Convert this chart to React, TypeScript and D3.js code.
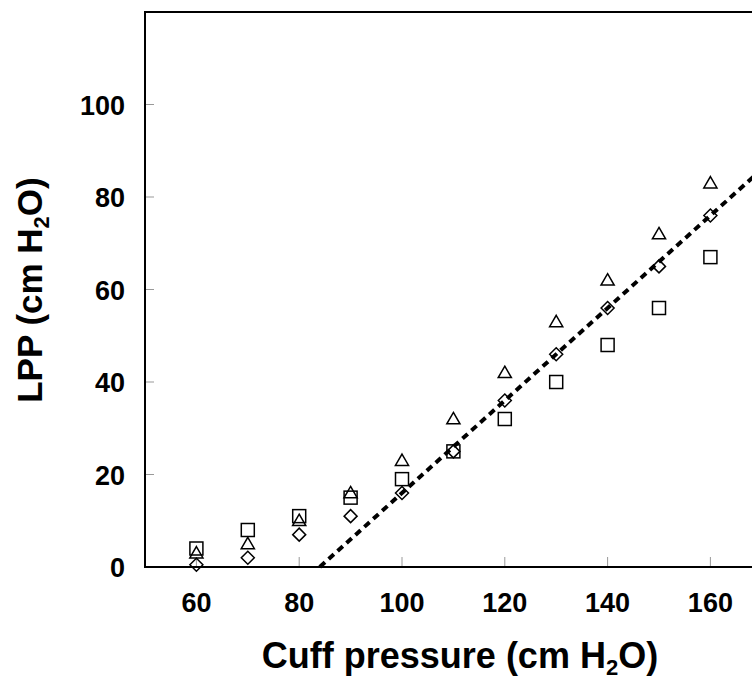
import React from "react";
import * as d3 from "d3";

const cuffPressure = [60, 70, 80, 90, 100, 110, 120, 130, 140, 150, 160];
const squareLPP = [4, 8, 11, 15, 19, 25, 32, 40, 48, 56, 67];
const triangleLPP = [3, 5, 10, 16, 23, 32, 42, 53, 62, 72, 83];
const diamondLPP = [0.5, 2, 7, 11, 16, 25, 36, 46, 56, 65, 76];
const fitLine = [
  [84, 0],
  [170, 86],
];
const xTicks = [60, 80, 100, 120, 140, 160];
const yTicks = [0, 20, 40, 60, 80, 100];

export default function App() {
  const W = 752;
  const H = 682;
  const left = 145;
  const top = 12;
  const bottom = 567;
  const x = d3.scaleLinear().domain([50, 170]).range([left, left + 120 * 5.14]);
  const y = d3.scaleLinear().domain([0, 120]).range([bottom, top]);
  const line = d3
    .line<number[]>()
    .x((d) => x(d[0]))
    .y((d) => y(d[1]));
  const font = "'Liberation Sans', Arial, sans-serif";
  const tri = d3.symbol().type(d3.symbolTriangle).size(75)()!;
  return (
    <svg
      width={W}
      height={H}
      style={{ display: "block", overflow: "hidden", position: "absolute", left: 0, top: 0 }}
      fontFamily={font}
    >
      <rect width={W} height={H} fill="#fff" />
      {/* ticks */}
      {yTicks.map((t) => (
        <line key={"yt" + t} x1={left} x2={left + 9} y1={y(t)} y2={y(t)} stroke="#999" strokeWidth={1} />
      ))}
      {xTicks.map((t) => (
        <line key={"xt" + t} x1={x(t)} x2={x(t)} y1={bottom} y2={bottom - 10} stroke="#999" strokeWidth={1} />
      ))}
      {/* frame */}
      <line x1={left} x2={left} y1={top} y2={bottom} stroke="#000" strokeWidth={2} />
      <line x1={left - 1} x2={W} y1={top} y2={top} stroke="#000" strokeWidth={2} />
      <line x1={left - 1} x2={W} y1={bottom} y2={bottom} stroke="#000" strokeWidth={2} />
      {/* fit line */}
      <path d={line(fitLine)!} fill="none" stroke="#000" strokeWidth={4} strokeDasharray="7,5" />
      {/* squares */}
      {cuffPressure.map((c, i) => (
        <rect
          key={"s" + i}
          x={x(c) - 6.5}
          y={y(squareLPP[i]) - 6.5}
          width={13}
          height={13}
          fill="none"
          stroke="#000"
          strokeWidth={1.5}
        />
      ))}
      {cuffPressure.map((c, i) => (
        <path
          key={"t" + i}
          d={tri}
          transform={`translate(${x(c)},${y(triangleLPP[i]) + 1})`}
          fill="none"
          stroke="#000"
          strokeWidth={1.5}
        />
      ))}
      {cuffPressure.map((c, i) => (
        <path
          key={"d" + i}
          d="M0,-6.5L6.5,0L0,6.5L-6.5,0Z"
          transform={`translate(${x(c)},${y(diamondLPP[i])})`}
          fill="none"
          stroke="#000"
          strokeWidth={1.5}
        />
      ))}
      {/* tick labels */}
      {yTicks.map((t) => (
        <text key={"yl" + t} x={125} y={y(t) + 10} textAnchor="end" fontSize={27} fontWeight="bold">
          {t}
        </text>
      ))}
      {xTicks.map((t) => (
        <text key={"xl" + t} x={x(t)} y={612} textAnchor="middle" fontSize={27} fontWeight="bold">
          {t}
        </text>
      ))}
      {/* axis titles */}
      <text x={460} y={668} textAnchor="middle" fontSize={36} fontWeight="bold">
        Cuff pressure (cm H<tspan fontSize={22} dy={7}>2</tspan>
        <tspan dy={-7}>O)</tspan>
      </text>
      <text transform={`translate(42,290) rotate(-90)`} textAnchor="middle" fontSize={35} fontWeight="bold">
        LPP (cm H<tspan fontSize={22} dy={7}>2</tspan>
        <tspan dy={-7}>O)</tspan>
      </text>
    </svg>
  );
}
